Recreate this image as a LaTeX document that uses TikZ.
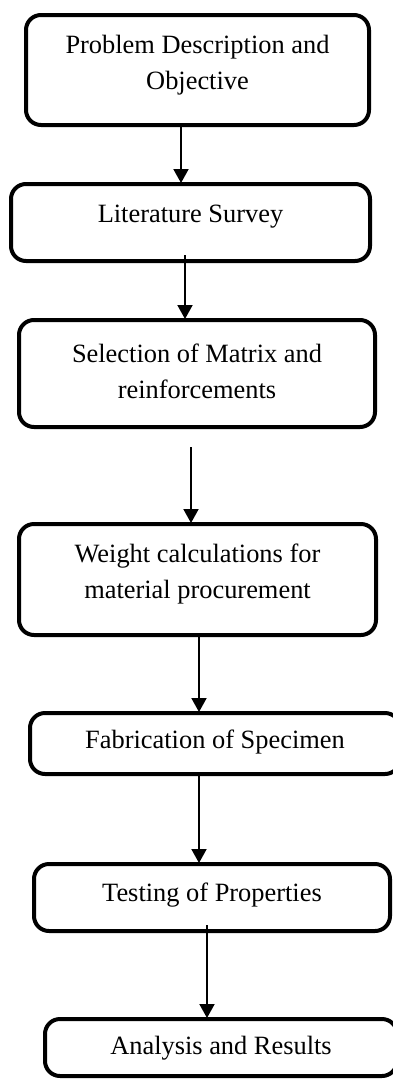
\documentclass[tikz,border=0pt]{standalone}
\usepackage{fontspec}
\setmainfont{Liberation Serif}
\usetikzlibrary{arrows.meta}
\begin{document}
\begin{tikzpicture}[x=1pt,y=-1pt,
  box/.style={draw, line width=4pt, rounded corners=15pt, inner sep=0pt, outer sep=0pt},
  txt/.style={font=\fontsize{26.4}{36}\selectfont, align=center, inner sep=0pt},
  arr/.style={line width=2pt, -{Triangle[width=15pt,length=14pt]}, shorten >=1pt}]
\useasboundingbox (0,0) rectangle (393,1080);
% boxes
\node[box, minimum width=343pt, minimum height=110pt] (b1) at (197.5,70) {};
\node[box, minimum width=359pt, minimum height=77pt]  (b2) at (190.5,222.5) {};
\node[box, minimum width=356pt, minimum height=107pt] (b3) at (197,373.5) {};
\node[box, minimum width=357pt, minimum height=111pt] (b4) at (197.5,579.5) {};
\node[box, minimum width=370pt, minimum height=61pt]  (b5) at (215,743.5) {};
\node[box, minimum width=356pt, minimum height=67pt]  (b6) at (212,897.5) {};
\node[box, minimum width=352pt, minimum height=57pt]  (b7) at (221,1047.5) {};
% texts
\node[txt] (t1) at (197.5,65) {Problem Description and\\Objective};
\node[txt] (t2) at (190.5,217) {Literature Survey};
\node[txt] (t3) at (197,371) {Selection of Matrix and\\reinforcements};
\node[txt] (t4) at (197.5,574) {Weight calculations for\\material procurement};
\node[txt] (t5) at (215,742) {Fabrication of Specimen};
\node[txt] (t6) at (212,895) {Testing of Properties};
\node[txt] (t7) at (221,1048) {Analysis and Results};
% arrow start points
\coordinate (s1) at ([xshift=-16.5pt]b1.south);
\coordinate (s2) at ([xshift=-5.5pt,yshift=6pt]b2.south);
\coordinate (s3) at ([xshift=-6pt,yshift=-20pt]b3.south);
\coordinate (s4) at ([xshift=1.5pt]b4.south);
\coordinate (s5) at ([xshift=-16pt]b5.south);
\coordinate (s6) at ([xshift=-5pt,yshift=6pt]b6.south);
% connectors
\draw[arr] (s1) -- (s1 |- b2.north);
\draw[arr] (s2) -- (s2 |- b3.north);
\draw[arr] (s3) -- (s3 |- b4.north);
\draw[arr] (s4) -- (s4 |- b5.north);
\draw[arr] (s5) -- (s5 |- b6.north);
\draw[arr] (s6) -- (s6 |- b7.north);
\end{tikzpicture}
\end{document}
